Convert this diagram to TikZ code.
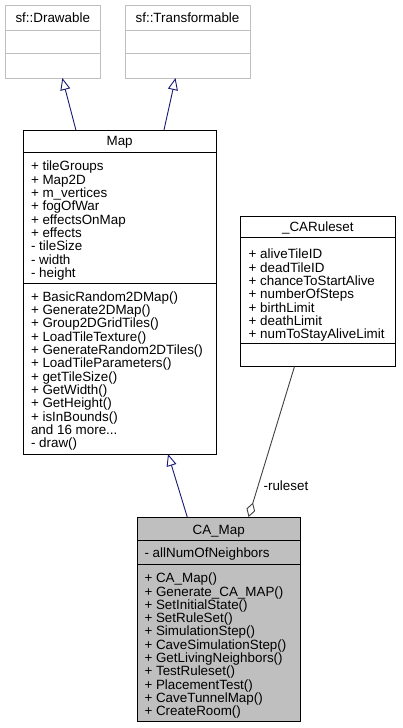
\documentclass[tikz,border=0pt]{standalone}
\usepackage{fontspec}
\setmainfont{Liberation Sans}
\usetikzlibrary{arrows.meta,calc}
\definecolor{extgray}{HTML}{BFBFBF}
\definecolor{inhblue}{HTML}{191970}
\definecolor{assocgray}{HTML}{404040}
\definecolor{cafill}{HTML}{BFBFBF}
\newcommand{\dxfont}{\fontsize{13.4}{13.33}\selectfont}
\begin{document}
\begin{tikzpicture}[x=1pt,y=-1pt,
  comp/.style={draw=black, line width=0.9pt, outer sep=0pt, inner sep=0pt, font=\dxfont, anchor=north west},
  extcomp/.style={comp, draw=extgray},
  memtext/.style={font=\dxfont, align=left, inner sep=0pt, anchor=west},
  ttext/.style={font=\dxfont, inner sep=0pt},
  inherit/.style={draw=inhblue, line width=0.9pt, -{Triangle[open, length=12pt, width=10pt]}},
  assoc/.style={draw=assocgray, line width=0.9pt, {Diamond[open, length=15pt, width=9pt]}-},
  lbl/.style={font=\dxfont, inner sep=2pt}
]
\useasboundingbox (0,0) rectangle (402,728);

% sf::Drawable
\node[extcomp, minimum width=95.5pt, minimum height=25pt] (drw-t) at (5,5) {};
\node[extcomp, minimum width=95.5pt, minimum height=23pt] (drw-a) at (drw-t.south west) {};
\node[extcomp, minimum width=95.5pt, minimum height=25pt] (drw-m) at (drw-a.south west) {};
\node[ttext, yshift=-0.5pt] (drw-name) at (drw-t.center) {sf::Drawable};

% sf::Transformable
\node[extcomp, minimum width=125pt, minimum height=25pt] (trf-t) at (125,5) {};
\node[extcomp, minimum width=125pt, minimum height=23pt] (trf-a) at (trf-t.south west) {};
\node[extcomp, minimum width=125pt, minimum height=25pt] (trf-m) at (trf-a.south west) {};
\node[ttext, yshift=-0.5pt] (trf-name) at (trf-t.center) {sf::Transformable};

% Map
\node[comp, minimum width=192.7pt, minimum height=22.3pt] (map-t) at (23.3,130) {};
\node[comp, minimum width=192.7pt, minimum height=131pt] (map-a) at (map-t.south west) {};
\node[comp, minimum width=192.7pt, minimum height=170.7pt] (map-m) at (map-a.south west) {};
\node[ttext, yshift=-1pt] (map-name) at (map-t.center) {Map};
\node[memtext, xshift=7.5pt, yshift=-3pt] (map-atxt) at (map-a.west) {%
+ tileGroups\\
+ Map2D\\
+ m\_vertices\\
+ fogOfWar\\
+ effectsOnMap\\
+ effects\\
- tileSize\\
- width\\
- height};
\node[memtext, xshift=7.5pt, yshift=-2.5pt] (map-mtxt) at (map-m.west) {%
+ BasicRandom2DMap()\\
+ Generate2DMap()\\
+ Group2DGridTiles()\\
+ LoadTileTexture()\\
+ GenerateRandom2DTiles()\\
+ LoadTileParameters()\\
+ getTileSize()\\
+ GetWidth()\\
+ GetHeight()\\
+ isInBounds()\\
and 16 more...\\
- draw()};

% _CARuleset
\node[comp, minimum width=155.7pt, minimum height=21.3pt] (rul-t) at (240,216) {};
\node[comp, minimum width=155.7pt, minimum height=106pt] (rul-a) at (rul-t.south west) {};
\node[comp, minimum width=155.7pt, minimum height=23.2pt] (rul-m) at (rul-a.south west) {};
\node[ttext, yshift=-1.5pt] (rul-name) at (rul-t.center) {\_CARuleset};
\node[memtext, xshift=8.5pt, yshift=-5pt] (rul-atxt) at (rul-a.west) {%
+ aliveTileID\\
+ deadTileID\\
+ chanceToStartAlive\\
+ numberOfSteps\\
+ birthLimit\\
+ deathLimit\\
+ numToStayAliveLimit};

% CA_Map
\node[comp, fill=cafill, minimum width=162.7pt, minimum height=23pt] (cam-t) at (137.3,517) {};
\node[comp, fill=cafill, minimum width=162.7pt, minimum height=24pt] (cam-a) at (cam-t.south west) {};
\node[comp, fill=cafill, minimum width=162.7pt, minimum height=157.7pt] (cam-m) at (cam-a.south west) {};
\node[ttext, yshift=-2.5pt] (cam-name) at (cam-t.center) {CA\_Map};
\node[memtext, xshift=7pt, yshift=-2.5pt] (cam-atxt) at (cam-a.west) {- allNumOfNeighbors};
\node[memtext, xshift=7pt, yshift=-3pt] (cam-mtxt) at (cam-m.west) {%
+ CA\_Map()\\
+ Generate\_CA\_MAP()\\
+ SetInitialState()\\
+ SetRuleSet()\\
+ SimulationStep()\\
+ CaveSimulationStep()\\
+ GetLivingNeighbors()\\
+ TestRuleset()\\
+ PlacementTest()\\
+ CaveTunnelMap()\\
+ CreateRoom()};

% connectors
\draw[inherit] ($(map-t.north west)!0.273!(map-t.north east)$) -- ($(drw-m.south west)!0.60!(drw-m.south east)$);
\draw[inherit] ($(map-t.north west)!0.730!(map-t.north east)$) -- ($(trf-m.south west)!0.404!(trf-m.south east)$);
\draw[inherit] ($(cam-t.north west)!0.307!(cam-t.north east)$) -- ($(map-m.south west)!0.751!(map-m.south east)$);
\draw[assoc] ($(cam-t.north west)!0.684!(cam-t.north east)$) -- node[lbl, pos=0.208, anchor=west, xshift=3pt] (rul-lbl) {-ruleset} ($(rul-m.south west)!0.35!(rul-m.south east)$);
\end{tikzpicture}
\end{document}
